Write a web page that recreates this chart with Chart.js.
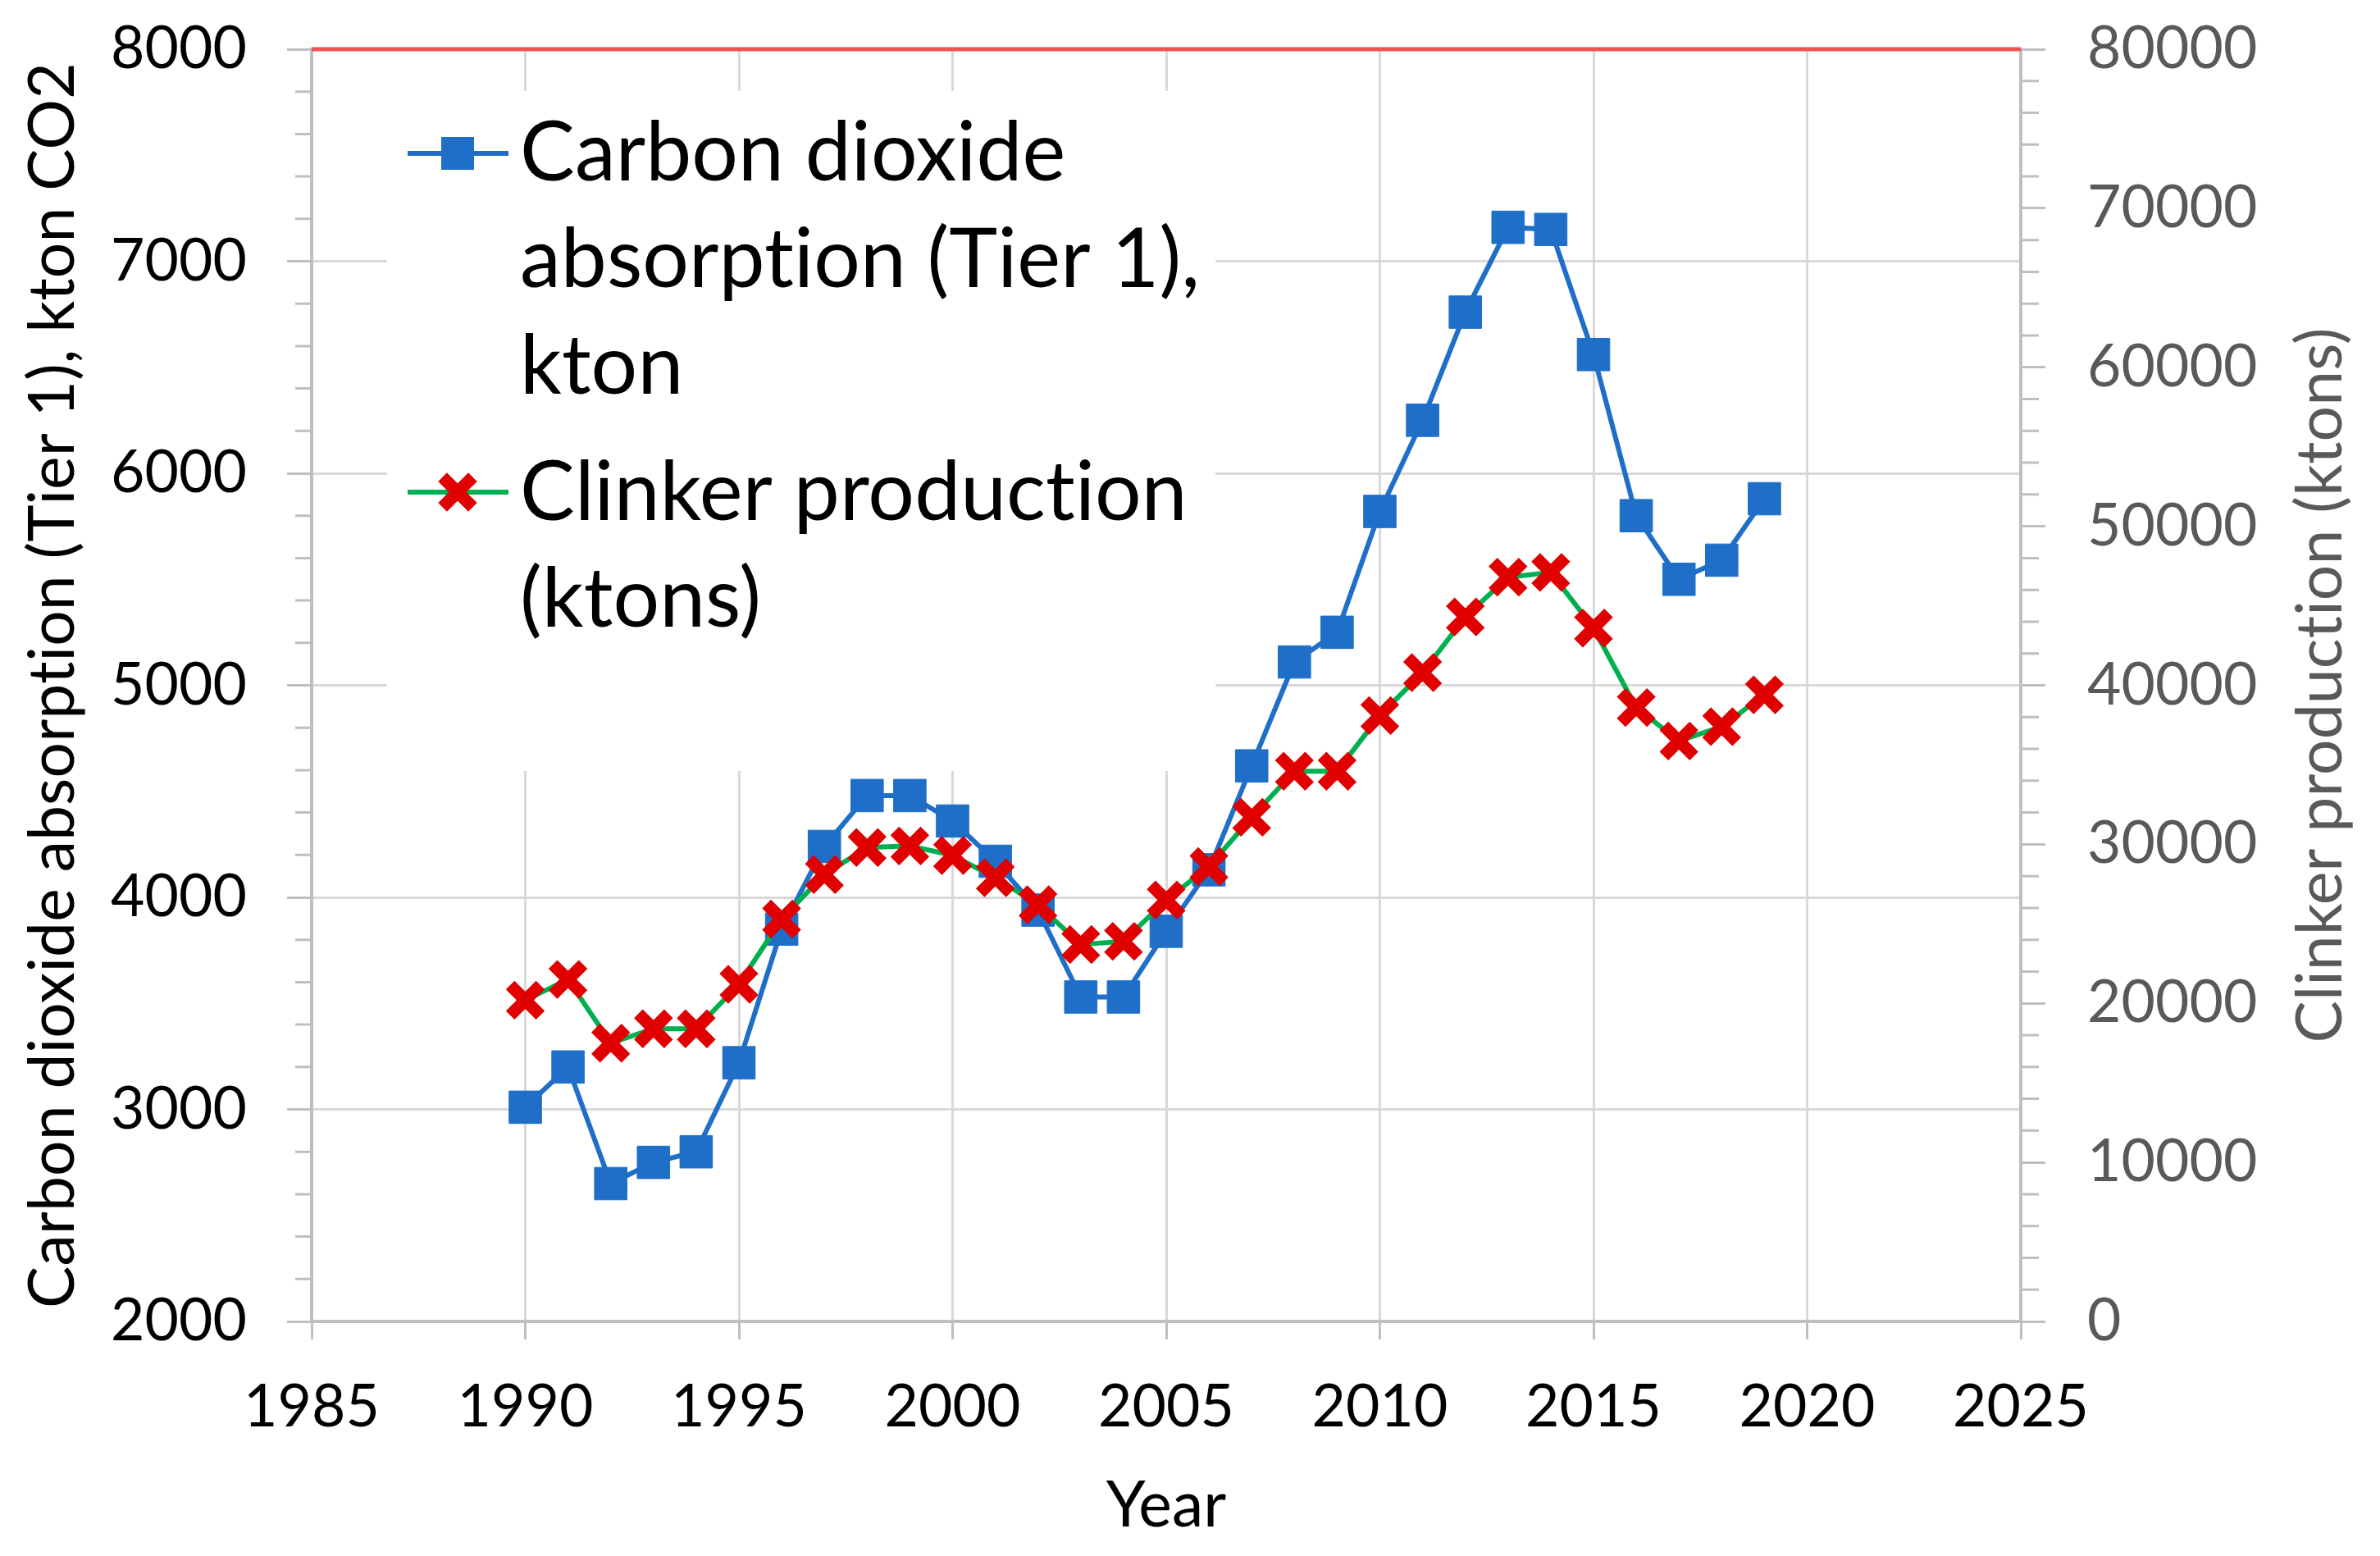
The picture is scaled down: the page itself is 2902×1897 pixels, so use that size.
<!DOCTYPE html>
<html>
<head>
<meta charset="utf-8">
<script src="https://cdn.jsdelivr.net/npm/chart.js@4.4.1/dist/chart.umd.min.js"></script>
<style>html,body{margin:0;padding:0;background:#fff;overflow:hidden}canvas{font-variant-ligatures:none}</style>
</head>
<body>
<canvas id="c" width="2902" height="1897"></canvas>
<script>
// ---- data ----
const years = [1990,1991,1992,1993,1994,1995,1996,1997,1998,1999,2000,2001,2002,2003,2004,2005,2006,2007,2008,2009,2010,2011,2012,2013,2014,2015,2016,2017,2018,2019];
const co2Absorption = [3010,3200,2650,2750,2800,3220,3850,4240,4480,4480,4360,4170,3940,3530,3530,3840,4130,4620,5110,5250,5820,6250,6760,7160,7150,6560,5800,5500,5590,5880];
const clinkerProduction = [20200,21500,17500,18400,18400,21200,25300,28100,29800,29900,29300,27900,26200,23700,23900,26500,28600,31700,34600,34600,38100,40800,44300,46800,47100,43600,38600,36500,37400,39400];
const xTickValues = [1985,1990,1995,2000,2005,2010,2015,2020,2025];
const leftTickValues = [2000,3000,4000,5000,6000,7000,8000];
const rightTickValues = [0,10000,20000,30000,40000,50000,60000,70000,80000];
const co2LegendLines = ["Carbon dioxide","absorption (Tier 1),","kton"];
const clinkerLegendLines = ["Clinker production","(ktons)"];
const leftTitle = "Carbon dioxide absorption (Tier 1), kton CO2";
const rightTitle = "Clinker production (ktons)";
const xTitle = "Year";

// ---- styles ----
const FONT = 'Lato';
const BLUE = '#1f6fc8';
const RED = '#e00000';
const GREEN = '#00b050';
const GRID = '#d9d9d9';
const AXIS = '#bfbfbf';
const W = 2902, H = 1897;
const PLOT = {left: 380, right: 2464, top: 60, bottom: 1611};

function noLigatures(c) {
  try { c.textRendering = 'optimizeSpeed'; } catch (e) {}
  try { c.letterSpacing = '0.1px'; } catch (e) {}
}
function fitSize(text, target) {
  const c = document.createElement('canvas').getContext('2d');
  noLigatures(c);
  c.font = '100px ' + FONT;
  return 100 * target / c.measureText(text).width;
}
const tickSize = fitSize('8000', 166);
const titleSize = fitSize(leftTitle, 1518);
const legendSize = fitSize('absorption (Tier 1),', 829);

const setTicks = vals => s => { s.ticks = vals.map(v => ({value: v})); };
const noPad = s => { s.paddingTop = 0; s.paddingBottom = 0; s.paddingLeft = 0; s.paddingRight = 0; };

const decor = {
  id: 'decor',
  beforeDraw(chart) {
    const ctx = chart.ctx;
    noLigatures(ctx);
    ctx.save();
    ctx.fillStyle = '#fff';
    ctx.fillRect(0, 0, chart.width, chart.height);
    ctx.restore();
  },
  beforeDatasetsDraw(chart) {
    const {ctx, chartArea: a, scales} = chart;
    ctx.save();
    // minor ticks
    ctx.strokeStyle = AXIS; ctx.lineWidth = 3;
    ctx.beginPath();
    for (let v = 2000; v <= 8000; v += 200) {
      if (v % 1000 === 0) continue;
      const y = scales.y.getPixelForValue(v);
      ctx.moveTo(a.left - 20, y); ctx.lineTo(a.left, y);
    }
    for (let v = 0; v <= 80000; v += 2000) {
      if (v % 10000 === 0) continue;
      const y = scales.y2.getPixelForValue(v);
      ctx.moveTo(a.right, y); ctx.lineTo(a.right + 22, y);
    }
    ctx.stroke();
    // red top border
    ctx.strokeStyle = '#f25252'; ctx.lineWidth = 5;
    ctx.beginPath(); ctx.moveTo(a.left, a.top); ctx.lineTo(a.right, a.top); ctx.stroke();

    // legend box
    ctx.fillStyle = '#fff';
    ctx.fillRect(472, 111, 1010, 829);
    // entry 1
    ctx.strokeStyle = BLUE; ctx.lineWidth = 6;
    ctx.beginPath(); ctx.moveTo(497, 187); ctx.lineTo(620, 187); ctx.stroke();
    ctx.fillStyle = BLUE;
    ctx.fillRect(558 - 20, 187 - 20, 40, 40);
    // entry 2
    ctx.strokeStyle = GREEN; ctx.lineWidth = 6;
    ctx.beginPath(); ctx.moveTo(497, 600); ctx.lineTo(620, 600); ctx.stroke();
    ctx.strokeStyle = RED; ctx.lineWidth = 15;
    const d = 26 * Math.SQRT1_2;
    ctx.beginPath();
    ctx.moveTo(558 - d, 600 - d); ctx.lineTo(558 + d, 600 + d);
    ctx.moveTo(558 + d, 600 - d); ctx.lineTo(558 - d, 600 + d);
    ctx.stroke();
    // legend text
    ctx.fillStyle = '#000';
    ctx.font = legendSize.toFixed(1) + 'px ' + FONT;
    ctx.textAlign = 'left'; ctx.textBaseline = 'alphabetic';
    co2LegendLines.forEach((t, i) => ctx.fillText(t, 634, 220 + i * 130));
    clinkerLegendLines.forEach((t, i) => ctx.fillText(t, 634, 634 + i * 130));

    // right axis title (reads bottom-to-top)
    ctx.save();
    ctx.translate(2830, (a.top + a.bottom) / 2);
    ctx.rotate(-Math.PI / 2);
    ctx.fillStyle = '#595959';
    ctx.font = titleSize.toFixed(1) + 'px ' + FONT;
    ctx.textAlign = 'center'; ctx.textBaseline = 'middle';
    ctx.fillText(rightTitle, 0, 0);
    ctx.restore();
    ctx.restore();
  }
};

new Chart(document.getElementById('c'), {
  type: 'line',
  data: {
    datasets: [
      {
        label: co2LegendLines.join(' '),
        data: years.map((y, i) => ({x: y, y: co2Absorption[i]})),
        yAxisID: 'y',
        borderColor: BLUE, backgroundColor: BLUE, borderWidth: 6,
        pointStyle: 'rect', pointRadius: 28, pointBackgroundColor: BLUE,
        pointBorderColor: BLUE, pointBorderWidth: 1,
        tension: 0, order: 1
      },
      {
        label: clinkerLegendLines.join(' '),
        data: years.map((y, i) => ({x: y, y: clinkerProduction[i]})),
        yAxisID: 'y2',
        borderColor: GREEN, backgroundColor: RED, borderWidth: 6,
        pointStyle: 'crossRot', pointRadius: 26, pointBorderColor: RED,
        pointBorderWidth: 15,
        tension: 0, order: 0
      }
    ]
  },
  options: {
    responsive: false, devicePixelRatio: 1, animation: false,
    layout: {padding: {top: PLOT.top, left: 0, right: 0, bottom: 0}},
    plugins: {legend: {display: false}, tooltip: {enabled: false}},
    scales: {
      x: {
        type: 'linear', position: 'bottom', min: 1985, max: 2025,
        afterBuildTicks: setTicks(xTickValues),
        afterFit: s => { noPad(s); s.height = H - PLOT.bottom; },
        grid: {color: GRID, lineWidth: 3, tickLength: 22, tickColor: AXIS, tickWidth: 3},
        border: {color: AXIS, width: 4},
        ticks: {font: {family: FONT, size: tickSize}, color: '#000', padding: 40,
                maxRotation: 0, autoSkip: false, callback: v => String(v)},
        title: {display: true, text: xTitle, color: '#000',
                font: {family: FONT, size: titleSize}, padding: {top: 0, bottom: 61 - titleSize * 0.6}}
      },
      y: {
        position: 'left', min: 2000, max: 8000,
        afterBuildTicks: setTicks(leftTickValues),
        afterFit: s => { noPad(s); s.width = PLOT.left; },
        grid: {color: GRID, lineWidth: 3, tickLength: 30, tickColor: AXIS, tickWidth: 3},
        border: {color: AXIS, width: 4},
        ticks: {font: {family: FONT, size: tickSize}, color: '#000', padding: 49,
                autoSkip: false, callback: v => String(v)},
        title: {display: true, text: leftTitle, color: '#000',
                font: {family: FONT, size: titleSize}, padding: {top: 65 - titleSize * 0.6, bottom: 0}}
      },
      y2: {
        position: 'right', min: 0, max: 80000,
        afterBuildTicks: setTicks(rightTickValues),
        afterFit: s => { noPad(s); s.width = W - PLOT.right; },
        grid: {drawOnChartArea: false, tickLength: 30, tickColor: AXIS, tickWidth: 3},
        border: {color: AXIS, width: 4},
        ticks: {font: {family: FONT, size: tickSize}, color: '#595959', padding: 51,
                autoSkip: false, callback: v => String(v)}
      }
    }
  },
  plugins: [decor]
});
</script>
</body>
</html>
